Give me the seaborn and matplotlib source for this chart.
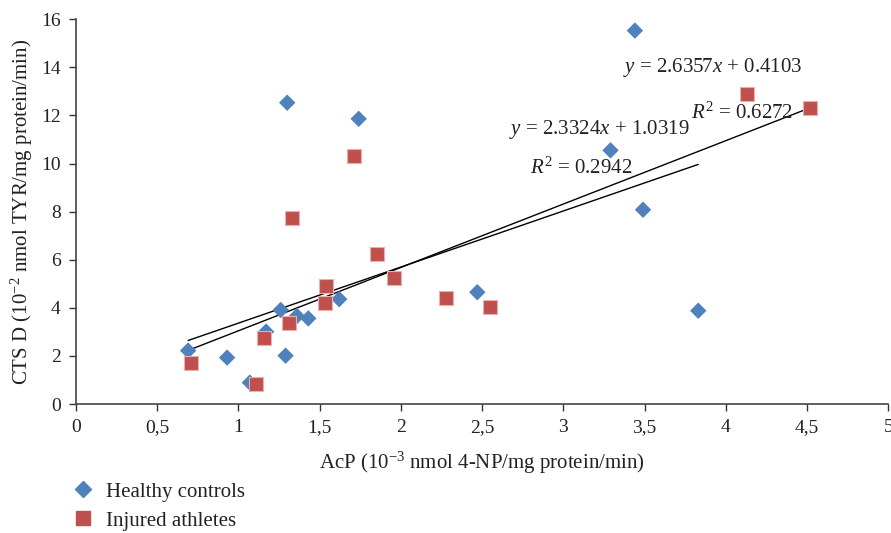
import numpy as np
import matplotlib; matplotlib.use('agg')
import matplotlib.pyplot as plt
from matplotlib.ticker import FuncFormatter, MultipleLocator
from matplotlib.lines import Line2D
import seaborn as sns


sns.set_style("white")
plt.rcParams['font.family'] = ['Liberation Serif', 'DejaVu Serif']
plt.rcParams['mathtext.fontset'] = 'custom'
plt.rcParams['mathtext.rm'] = 'Liberation Serif'
plt.rcParams['mathtext.it'] = 'Liberation Serif:italic'

# healthy controls
healthy_acp = [0.69, 0.93, 1.07, 1.17, 1.26, 1.29, 1.30, 1.36, 1.43, 1.62,
               1.74, 2.47, 3.29, 3.44, 3.49, 3.83]
healthy_cts = [2.22, 1.93, 0.89, 3.01, 3.91, 2.01, 12.53, 3.66, 3.56, 4.36,
               11.86, 4.65, 10.55, 15.53, 8.08, 3.88]

# injured athletes
injured_acp = [0.71, 1.11, 1.16, 1.31, 1.33, 1.53, 1.54, 1.71, 1.85, 1.96,
               2.28, 2.55, 4.13, 4.52]
injured_cts = [1.72, 0.83, 2.76, 3.38, 7.75, 4.19, 4.91, 10.32, 6.23, 5.25,
               4.40, 4.05, 12.91, 12.33]

# trendline coefficients (slope, intercept, r2) as printed on the chart
healthy_fit = (2.3324, 1.0319, 0.2942)
injured_fit = (2.6357, 0.4103, 0.6272)

blue = '#4F81BD'
red = '#C0504D'
fs = 15

fig = plt.figure(figsize=(8.91, 5.33), dpi=100)
ax = fig.add_axes([0.0853, 0.242, 0.9117, 0.7218])

sns.scatterplot(x=healthy_acp, y=healthy_cts, marker='D', s=70, color=blue,
                edgecolor='none', ax=ax, zorder=3)
sns.scatterplot(x=injured_acp, y=injured_cts, marker='s', s=110, color=red,
                edgecolor='#E8B0AE', linewidth=0.8, ax=ax, zorder=3)

for xs, (m, b, r2) in [(healthy_acp, healthy_fit), (injured_acp, injured_fit)]:
    xx = np.array([min(xs), max(xs)])
    ax.plot(xx, m * xx + b, color='black', lw=1, zorder=2)

# equation labels
ax.text(2.666, 11.40, r'$y$ = %.4f$x$ + %.4f' % healthy_fit[:2], fontsize=fs,
        va='center', color='#222222')
ax.text(2.795, 9.82, r'$R^2$ = %.4f' % healthy_fit[2], fontsize=fs,
        va='center', color='#222222')
ax.text(3.366, 13.98, r'$y$ = %.4f$x$ + %.4f' % injured_fit[:2], fontsize=fs,
        va='center', color='#222222')
ax.text(3.784, 12.10, r'$R^2$ = %.4f' % injured_fit[2], fontsize=fs,
        va='center', color='#222222')

ax.set_xlim(0, 5)
ax.set_ylim(0, 16)
ax.xaxis.set_major_locator(MultipleLocator(0.5))
ax.yaxis.set_major_locator(MultipleLocator(2))
ax.xaxis.set_major_formatter(FuncFormatter(lambda v, p: f'{v:g}'.replace('.', ',')))
ax.tick_params(axis='both', direction='out', length=5, width=1, labelsize=14,
               colors='#333333', labelcolor='#222222', bottom=True, left=True,
               pad=6)

for side in ['top', 'right']:
    ax.spines[side].set_visible(False)
for side in ['left', 'bottom']:
    ax.spines[side].set_color('#444444')
    ax.spines[side].set_linewidth(1.2)

ax.set_xlabel(r'AcP (10$^{-3}$ nmol 4-NP/mg protein/min)', fontsize=fs,
              color='#222222', va='center')
ax.set_ylabel(r'CTS D (10$^{-2}$ nmol TYR/mg protein/min)', fontsize=fs,
              color='#222222', va='center')
ax.xaxis.set_label_coords(0.5, -0.153)
ax.yaxis.set_label_coords(-0.0665, 0.5)

handles = [
    Line2D([], [], marker='D', color=blue, linestyle='none', markersize=8.5),
    Line2D([], [], marker='s', color=red, linestyle='none', markersize=10.5),
]
fig.legend(handles, ['Healthy controls', 'Injured athletes'], loc='upper left',
           bbox_to_anchor=(72.6 / 891, 1 - 482 / 533), frameon=False,
           fontsize=fs, handlelength=1, handletextpad=0.6, labelspacing=0.45,
           borderpad=0, borderaxespad=0, labelcolor='#222222')

plt.savefig('out.png', dpi=100)
plt.close(fig)
